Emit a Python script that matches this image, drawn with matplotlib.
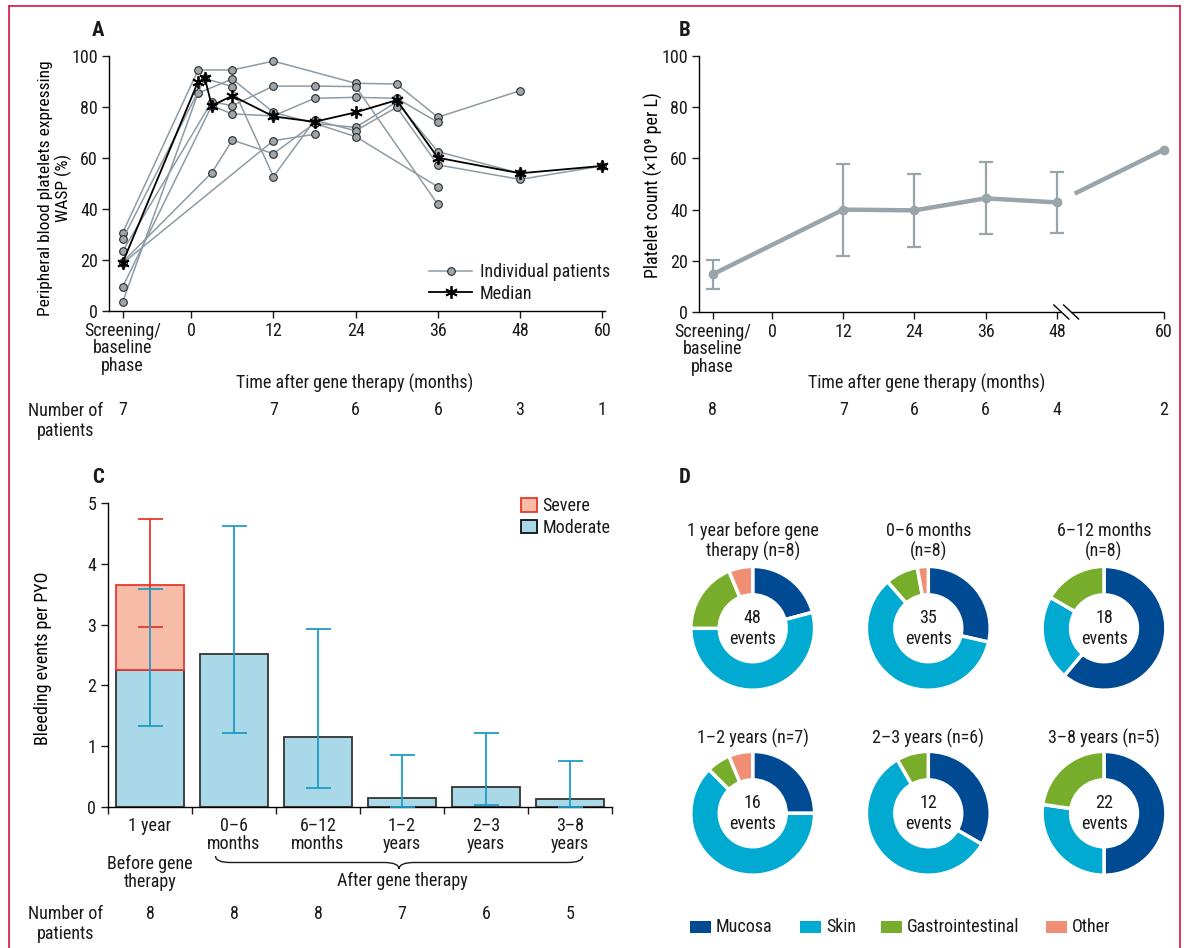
import numpy as np
import matplotlib
matplotlib.use("Agg")
import matplotlib.pyplot as plt
import matplotlib.transforms as mtransforms
from matplotlib import font_manager
from matplotlib.lines import Line2D
from matplotlib.patches import Patch, PathPatch, Rectangle
from matplotlib.path import Path

# narrow font if there is one, else plain Liberation Sans
fams = {f.name for f in font_manager.fontManager.ttflist}
FAMILY, FS = "Liberation Sans", 11
for cand in ["Liberation Sans Narrow", "Arial Narrow", "Roboto Condensed",
             "Open Sans Condensed", "Noto Sans Condensed"]:
    if cand in fams:
        FAMILY, FS = cand, 13
        break

plt.rcParams["font.family"] = [FAMILY, "DejaVu Sans"]
plt.rcParams["font.size"] = FS
plt.rcParams["axes.linewidth"] = 1.0
plt.rcParams["text.color"] = "#1a1a1a"
plt.rcParams["xtick.color"] = "#1a1a1a"
plt.rcParams["ytick.color"] = "#1a1a1a"

# ---------------- data ----------------
# panel A: % WASP+ platelets, month -10 stands for screening / baseline
p1_t = [-10, 1, 6, 12, 24, 30, 36, 48]
p1_v = [30.7, 94.5, 94.5, 98.0, 89.3, 89.0, 76.0, 86.4]
p2_t = [-10, 1, 6, 12, 18, 24, 30, 36, 48]
p2_v = [3.6, 85.4, 91.0, 77.9, 73.6, 72.0, 82.0, 62.5, 54.0]
p3_t = [-10, 2, 6, 12, 18, 24, 30, 36, 48, 60]
p3_v = [28.2, 91.2, 88.0, 52.7, 74.8, 70.7, 79.9, 57.3, 51.6, 56.9]
p4_t = [-10, 3, 6, 12, 18, 24, 36]
p4_v = [23.5, 82.1, 80.5, 88.2, 88.2, 88.0, 41.8]
p5_t = [-10, 3, 6, 12, 18, 24, 30, 36]
p5_v = [9.5, 80.5, 77.3, 76.5, 83.4, 83.8, 83.4, 74.0]
p6_t = [-10, 3, 6, 12, 18, 24, 36]
p6_v = [19.2, 54.2, 67.0, 61.7, 73.6, 68.4, 48.7]
p7_t = [-10, 12, 18]
p7_v = [18.7, 66.8, 69.3]
patients = [(p1_t, p1_v), (p2_t, p2_v), (p3_t, p3_v), (p4_t, p4_v),
            (p5_t, p5_v), (p6_t, p6_v), (p7_t, p7_v)]

median_t = [-10, 1, 2, 3, 6, 12, 18, 24, 30, 36, 48, 60]
median_v = [19.0, 89.9, 91.2, 80.5, 84.4, 76.3, 74.2, 77.9, 82.7, 60.1, 54.0, 56.9]

a_ticks = [-10, 0, 12, 24, 36, 48, 60]
a_ticklabels = ["Screening/\nbaseline\nphase", "0", "12", "24", "36", "48", "60"]
a_n_t = [-10, 12, 24, 36, 48, 60]
a_n = [7, 7, 6, 6, 3, 1]

# panel B: platelet count
b_t = [-10, 12, 24, 36, 48, 60]
b_mean = [14.7, 40.0, 39.7, 44.4, 42.8, 63.4]
b_lo = [8.9, 21.9, 25.4, 30.5, 30.9]
b_hi = [20.4, 57.7, 53.8, 58.5, 54.6]
b_n = [8, 7, 6, 6, 4, 2]

# panel C: bleeding events per PYO
c_labels = ["1 year", "0–6\nmonths", "6–12\nmonths", "1–2\nyears", "2–3\nyears", "3–8\nyears"]
c_moderate = [2.26, 2.52, 1.15, 0.15, 0.33, 0.13]
c_severe = [1.39, 0, 0, 0, 0, 0]
c_mod_lo = [1.34, 1.21, 0.31, 0.0, 0.04, 0.0]
c_mod_hi = [3.58, 4.62, 2.92, 0.85, 1.21, 0.76]
c_tot_lo = 2.96
c_tot_hi = 4.74
c_n = [8, 8, 8, 7, 6, 5]

# panel D: bleeding sites
d_titles = ["1 year before gene\ntherapy (n=8)", "0–6 months\n(n=8)", "6–12 months\n(n=8)",
            "1–2 years (n=7)", "2–3 years (n=6)", "3–8 years (n=5)"]
d_sites = ["Mucosa", "Skin", "Gastrointestinal", "Other"]
d_counts = [[10, 26, 9, 3], [10, 21, 3, 1], [11, 4, 3, 0],
            [4, 10, 1, 1], [4, 7, 1, 0], [11, 6, 5, 0]]
d_colors = ["#004a93", "#00aad0", "#77ad2b", "#f08f74"]

# ---------------- layout helpers ----------------
W, H = 1184, 948


def fx(x):
    return x / W


def fy(y):
    return 1 - y / H


def box(l, t, r, b):
    return [fx(l), fy(b), (r - l) / W, (b - t) / H]


fig = plt.figure(figsize=(W / 100, H / 100), dpi=100)

GREY = "#8e9ba4"

# ---------------- A ----------------
axA = fig.add_axes(box(109, 56, 605, 311))
for t, v in patients:
    axA.plot(t, v, color=GREY, lw=1.1, marker="o", ms=5.5, mfc="#9ea6ab",
             mec="#2a2a2a", mew=0.8, zorder=2, clip_on=False)
axA.plot(median_t, median_v, color="black", lw=1.3, marker=(6, 2, 0), ms=9,
         mew=1.3, zorder=3, clip_on=False)
axA.set_xlim(-12, 60.4)
axA.set_ylim(0, 100)
axA.set_yticks(range(0, 101, 20))
axA.set_xticks(a_ticks)
axA.set_xticklabels(a_ticklabels, linespacing=0.95)
for s in ["top", "right"]:
    axA.spines[s].set_visible(False)
axA.tick_params(direction="out", length=5, width=1, labelsize=FS, pad=3)
axA.set_ylabel("Peripheral blood platelets expressing\nWASP (%)", fontsize=FS - 0.5, linespacing=1.1)
axA.yaxis.set_label_coords(fx(72), fy(188), transform=fig.transFigure)
hA = [Line2D([], [], color=GREY, lw=1.1, marker="o", ms=5.5, mfc="#9ea6ab", mec="#2a2a2a", mew=0.8),
      Line2D([], [], color="black", lw=1.3, marker=(6, 2, 0), ms=9, mew=1.3)]
axA.legend(hA, ["Individual patients", "Median"], loc="lower right", frameon=False,
           bbox_to_anchor=(fx(626), fy(319)), bbox_transform=fig.transFigure,
           fontsize=FS, handlelength=2.4, handletextpad=0.4, labelspacing=0.2)
trA = mtransforms.blended_transform_factory(axA.transData, fig.transFigure)
for x, n in zip(a_n_t, a_n):
    axA.text(x, fy(410), str(n), transform=trA, ha="center", va="center", fontsize=FS)
fig.text(fx(355), fy(383), "Time after gene therapy (months)", ha="center", va="center", fontsize=FS)
fig.text(fx(66), fy(421), "Number of\npatients", ha="center", va="center", fontsize=FS, linespacing=1.15)
fig.text(fx(98), fy(30), "A", ha="center", va="center", fontsize=FS + 2, fontweight="bold")

# ---------------- B ----------------
b_gap = 6
b_x = np.array(b_t, float)
b_px = np.where(b_x > 48, b_x + b_gap, b_x)
axB = fig.add_axes(box(699, 56, 1164, 312))
BGREY = "#99a4ab"
axB.plot(b_px[:5], b_mean[:5], color=BGREY, lw=3.2, marker="o", ms=6, zorder=3, clip_on=False)
axB.errorbar(b_px[:5], b_mean[:5],
             yerr=[np.array(b_mean[:5]) - np.array(b_lo), np.array(b_hi) - np.array(b_mean[:5])],
             fmt="none", ecolor=BGREY, elinewidth=1.6, capsize=5, capthick=1.6, zorder=2)
brk_start = 51.0
y_start = np.interp(brk_start, b_px[4:6], b_mean[4:6])
axB.plot([brk_start, b_px[5]], [y_start, b_mean[5]], color=BGREY, lw=3.2, zorder=3,
         solid_capstyle="butt", clip_on=False)
axB.plot(b_px[5], b_mean[5], marker="o", ms=6, color=BGREY, zorder=3, clip_on=False)
axB.set_xlim(-12.3, 66.05)
axB.set_ylim(0, 100)
axB.set_yticks(range(0, 101, 20))
b_ticks = [-10, 0, 12, 24, 36, 48, 48 + 12 + b_gap]
axB.set_xticks(b_ticks)
axB.set_xticklabels(["Screening/\nbaseline\nphase", "0", "12", "24", "36", "48", "60"], linespacing=0.95)
for s in ["top", "right", "bottom"]:
    axB.spines[s].set_visible(False)
axB.tick_params(direction="out", length=5, width=1, labelsize=FS, pad=3)
# broken x axis
x_b1, x_b2 = 48.75, 50.4
axB.plot([-12.3, x_b1], [0, 0], color="black", lw=1.0, clip_on=False, solid_capstyle="butt")
axB.plot([x_b2, 66.05], [0, 0], color="black", lw=1.0, clip_on=False, solid_capstyle="butt")
span = 66.05 + 12.3
for xb in [x_b1, x_b2]:
    xf = (xb + 12.3) / span
    dx = 7.5 / 465
    dy = 7 / 256
    axB.plot([xf - dx, xf + dx], [dy, -dy], transform=axB.transAxes, color="black",
             lw=1.0, clip_on=False)
axB.set_ylabel("Platelet count (×10⁹ per L)", fontsize=FS)
axB.yaxis.set_label_coords(fx(663), fy(185), transform=fig.transFigure)
trB = mtransforms.blended_transform_factory(axB.transData, fig.transFigure)
for x, n in zip(b_px, b_n):
    axB.text(x, fy(410), str(n), transform=trB, ha="center", va="center", fontsize=FS)
fig.text(fx(927), fy(383), "Time after gene therapy (months)", ha="center", va="center", fontsize=FS)
fig.text(fx(685), fy(30), "B", ha="center", va="center", fontsize=FS + 2, fontweight="bold")

# ---------------- C ----------------
axC = fig.add_axes(box(108, 503, 612, 807))
xc = np.arange(len(c_labels))
MOD_FILL, MOD_EDGE, MOD_ERR = "#a9d9e8", "#333333", "#1f9cc6"
SEV_FILL, SEV_EDGE = "#f7bca7", "#e8392c"
axC.bar(xc, c_moderate, width=0.8, color=MOD_FILL, edgecolor=MOD_EDGE, lw=1.3, zorder=2)
axC.bar(xc[:1], c_severe[:1], bottom=c_moderate[:1], width=0.8, color=SEV_FILL,
        edgecolor=SEV_EDGE, lw=1.3, zorder=2)
tot0 = c_moderate[0] + c_severe[0]
axC.errorbar(xc[:1], [tot0], yerr=[[tot0 - c_tot_lo], [c_tot_hi - tot0]], fmt="none",
             ecolor=SEV_EDGE, elinewidth=1.3, capsize=9, capthick=1.3, zorder=3)
mod = np.array(c_moderate)
axC.errorbar(xc, mod, yerr=[mod - np.array(c_mod_lo), np.array(c_mod_hi) - mod], fmt="none",
             ecolor=MOD_ERR, elinewidth=1.3, capsize=9, capthick=1.3, zorder=4, clip_on=False)
axC.set_xlim(-0.5, 5.5)
axC.set_ylim(0, 5)
axC.set_yticks(range(0, 6))
axC.set_xticks(np.arange(-0.5, 6, 1))
axC.set_xticklabels([])
axC.set_xticks(xc, minor=True)
axC.set_xticklabels(c_labels, minor=True, linespacing=1.0)
axC.tick_params(axis="x", which="minor", length=0, pad=7, labelsize=FS)
axC.tick_params(axis="both", which="major", direction="out", length=5, width=1, labelsize=FS)
for s in ["top", "right"]:
    axC.spines[s].set_visible(False)
axC.set_ylabel("Bleeding events per PYO", fontsize=FS)
axC.yaxis.set_label_coords(fx(52), fy(658), transform=fig.transFigure)
hC = [Patch(facecolor=SEV_FILL, edgecolor=SEV_EDGE, lw=1.3),
      Patch(facecolor=MOD_FILL, edgecolor="#111111", lw=1.3)]
axC.legend(hC, ["Severe", "Moderate"], loc="upper right", frameon=False,
           bbox_to_anchor=(fx(627), fy(481)), bbox_transform=fig.transFigure,
           fontsize=FS, handlelength=0.9, handleheight=0.8, handletextpad=0.3, labelspacing=0.2)
trC = mtransforms.blended_transform_factory(axC.transData, fig.transFigure)
axC.text(0, fy(873), "Before gene\ntherapy", transform=trC, ha="center", va="center",
         fontsize=FS, linespacing=1.05)
axC.text(3, fy(881), "After gene therapy", transform=trC, ha="center", va="center", fontsize=FS)


def brace(ax, x0, x1, ytop, ybot, tr, d=0.18):
    mid = (x0 + x1) / 2
    ym = (ytop + ybot) / 2
    verts = [(x0, ytop), (x0, ym), (x0 + d, ym), (mid - d, ym), (mid, ym), (mid, ybot),
             (mid, ym), (mid + d, ym), (x1 - d, ym), (x1, ym), (x1, ytop)]
    codes = [Path.MOVETO, Path.CURVE3, Path.CURVE3, Path.LINETO, Path.CURVE3, Path.CURVE3,
             Path.CURVE3, Path.CURVE3, Path.LINETO, Path.CURVE3, Path.CURVE3]
    ax.add_patch(PathPatch(Path(verts, codes), transform=tr, fill=False, lw=1.0,
                           edgecolor="#1a1a1a", clip_on=False))


brace(axC, 0.78, 5.15, fy(856), fy(869), trC)
for x, n in zip(xc, c_n):
    axC.text(x, fy(914), str(n), transform=trC, ha="center", va="center", fontsize=FS)
fig.text(fx(66), fy(924), "Number of\npatients", ha="center", va="center", fontsize=FS, linespacing=1.15)
fig.text(fx(98), fy(478), "C", ha="center", va="center", fontsize=FS + 2, fontweight="bold")

# ---------------- D ----------------
centers_x = [752.7, 928.3, 1104.0]
centers_y = [628.3, 813.3]
R = 65
for i, (title, counts) in enumerate(zip(d_titles, d_counts)):
    cx = centers_x[i % 3]
    cy = centers_y[i // 3]
    ax = fig.add_axes(box(cx - R, cy - R, cx + R, cy + R))
    keep = [k for k, c in enumerate(counts) if c > 0]
    ax.pie([counts[k] for k in keep], colors=[d_colors[k] for k in keep], startangle=90,
           counterclock=False, radius=1,
           wedgeprops=dict(width=0.46, edgecolor="white", linewidth=2.5))
    ax.set_xlim(-1.05, 1.05)
    ax.set_ylim(-1.05, 1.05)
    ax.set_aspect("equal")
    ax.axis("off")
    ax.text(0, 0, f"{sum(counts)}\nevents", ha="center", va="center", fontsize=FS, linespacing=1.25)
    if i < 3:
        fig.text(fx(cx), fy(541.5), title, ha="center", va="center", fontsize=FS, linespacing=1.15)
    else:
        fig.text(fx(cx), fy(738.3), title, ha="center", va="center", fontsize=FS)

# legend of D, one entry at a time
leg_x = [690, 800, 881, 1046]
for lx, name, col in zip(leg_x, d_sites, d_colors):
    fig.add_artist(Rectangle((fx(lx), fy(933)), 21 / W, 12 / H, transform=fig.transFigure,
                             facecolor=col, edgecolor="none"))
    fig.text(fx(lx + 26), fy(927), name, ha="left", va="center", fontsize=FS)
fig.text(fx(685), fy(478), "D", ha="center", va="center", fontsize=FS + 2, fontweight="bold")

# ---------------- frame ----------------
FRAME = "#d3264f"
fig.add_artist(Line2D([fx(9), fx(9)], [fy(6), 0], color=FRAME, lw=1.3))
fig.add_artist(Line2D([fx(9), fx(1180)], [fy(6), fy(6)], color=FRAME, lw=1.3))
fig.add_artist(Line2D([fx(1180), fx(1180)], [fy(6), 0], color=FRAME, lw=1.3))

fig.savefig("out.png", dpi=100)
